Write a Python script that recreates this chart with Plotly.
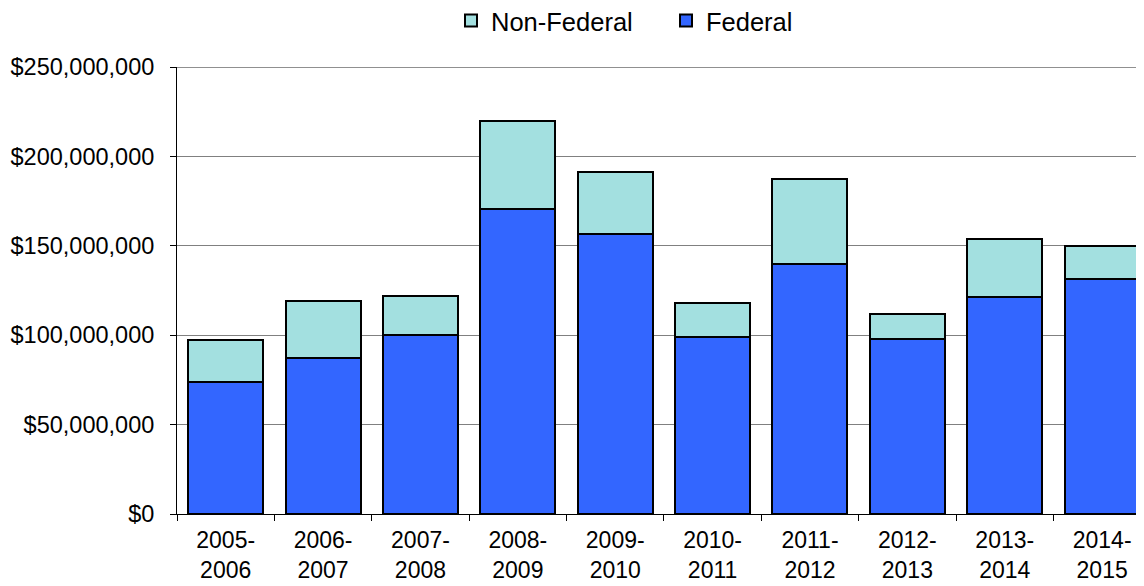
import plotly.graph_objects as go

categories = ["2005-<br>2006", "2006-<br>2007", "2007-<br>2008", "2008-<br>2009", "2009-<br>2010",
              "2010-<br>2011", "2011-<br>2012", "2012-<br>2013", "2013-<br>2014", "2014-<br>2015"]
federal = [74.0e6, 87.1e6, 100.1e6, 170.6e6, 156.6e6, 98.8e6, 139.8e6, 97.9e6, 121.5e6, 131.3e6]
total = [97.3e6, 119.1e6, 121.9e6, 219.8e6, 191.4e6, 117.8e6, 187.2e6, 111.9e6, 153.6e6, 150.1e6]
non_federal = [t - f for t, f in zip(total, federal)]
y_max = 250e6
y_step = 50e6

FONT = "Liberation Sans, Arial, sans-serif"

fig = go.Figure()
fig.add_trace(go.Bar(x=categories, y=federal, name="Federal",
                     marker=dict(color="#3366FF", line=dict(color="black", width=2))))
fig.add_trace(go.Bar(x=categories, y=non_federal, name="Non-Federal",
                     marker=dict(color="#A3E0E0", line=dict(color="black", width=2))))

# the page body has an 8px margin: the figure is sized so that it fits the
# 1144x586 window without overflowing, and sits 8px right/down on screen
W, H = 1136, 578
fig.update_layout(
    width=W, height=H,
    barmode="stack", bargap=0.23,
    plot_bgcolor="white", paper_bgcolor="white",
    margin=dict(l=169, r=0, t=59, b=72),
    font=dict(family=FONT, size=23, color="black"),
    legend=dict(orientation="h", traceorder="reversed",
                xref="container", x=443 / W, xanchor="left",
                yref="container", y=1 - 13 / H, yanchor="middle",
                font=dict(size=25.5), itemwidth=30, entrywidth=170,
                bgcolor="rgba(0,0,0,0)"),
    xaxis=dict(range=[-0.5, 9.43], tickson="boundaries", ticks="outside", ticklen=6,
               tickcolor="black", showline=True, linecolor="black", linewidth=1,
               showgrid=False, tickfont=dict(size=23), ticklabelstandoff=5,
               automargin=False),
    yaxis=dict(range=[0, y_max], dtick=y_step, tickformat="$,.0f", ticks="outside",
               ticklen=6, tickcolor="black", showline=True, linecolor="black", linewidth=1,
               showgrid=True, gridcolor="#808080", gridwidth=1, zeroline=False,
               ticklabelstandoff=11, tickfont=dict(size=23.5), automargin=False),
    shapes=[dict(type="line", xref="paper", x0=0, x1=1, yref="y", y0=y_max, y1=y_max,
                 line=dict(color="#909090", width=2), layer="below")],
)

fig.write_html("out.html")
